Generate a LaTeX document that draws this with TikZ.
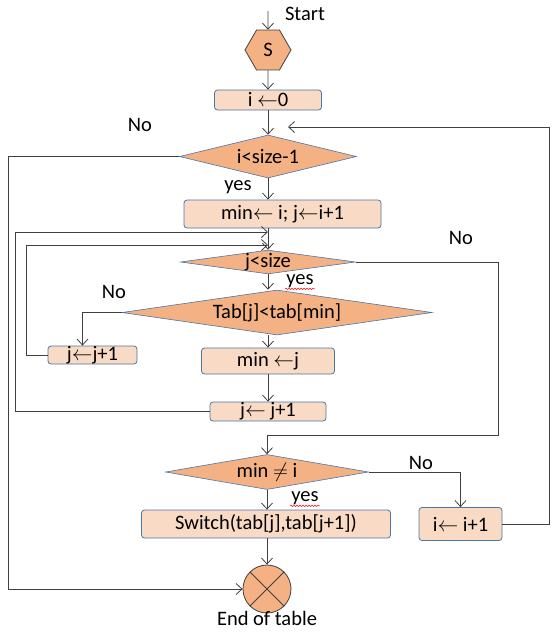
\documentclass[tikz,border=0pt]{standalone}
\usepackage{fontspec}
\setmainfont{Carlito}
\usetikzlibrary{shapes.geometric, arrows.meta, decorations.pathmorphing}
\definecolor{boxfill}{HTML}{F9DAC4}
\definecolor{decfill}{HTML}{F4B183}
\definecolor{boxline}{HTML}{4A76A8}
\definecolor{arrowline}{HTML}{404040}

\begin{document}
\begin{tikzpicture}[
        x=1pt, y=-1pt,
        font=\fontsize{20.5}{22}\selectfont,
        box/.style={rectangle, draw=boxline, fill=boxfill, line width=0.8pt, rounded corners=3pt, inner sep=0pt, align=center},
        decision/.style={diamond, draw=boxline, fill=decfill, line width=0.6pt, inner sep=0pt},
        terminal/.style={draw=arrowline, fill=decfill, line width=0.8pt, inner sep=0pt},
        arrow/.style={draw=arrowline, line width=0.8pt, -{Straight Barb[length=6pt,width=11pt]}},
        line/.style={draw=arrowline, line width=0.8pt},
        lbl/.style={inner sep=1pt},
        spell/.style={red, line width=0.5pt, decorate, decoration={snake, amplitude=0.7pt, segment length=3pt}}
        ]
        \useasboundingbox (0,0) rectangle (557,633);

        % main column
        \coordinate (entry) at (268,11);
        \node[terminal, regular polygon, regular polygon sides=6, minimum size=46pt] (start) at (268,50) {S};
        \node[lbl] (startlbl) at (305,14) {Start};
        \node[box, minimum width=107pt, minimum height=20pt] (init) at (268,100) {i $\leftarrow$0};
        \node[decision, aspect=4.1, minimum width=177pt, minimum height=43pt] (outer) at (268,156.5) {i<size-1};
        \node[box, minimum width=197pt, minimum height=28pt] (setmin) at (282.5,214) {min$\leftarrow$ i; j$\leftarrow$i+1};
        \node[decision, aspect=7.3, minimum width=175pt, minimum height=23pt] (inner) at (268,262) {j<size};
        \node[decision, aspect=6.9, minimum width=310pt, minimum height=45pt] (compare) at (277,312.5) {Tab[j]<tab[min]};
        \node[box, minimum width=89pt, minimum height=18pt] (skip) at (92.5,355) {j$\leftarrow$j+1};
        \node[box, minimum width=133pt, minimum height=26pt] (newmin) at (268,361) {min $\leftarrow$j};
        \node[box, minimum width=116pt, minimum height=19pt] (nextj) at (268,411.5) {j$\leftarrow$ j+1};
        \node[decision, aspect=5.8, minimum width=203pt, minimum height=35pt] (check) at (267,472) {min $\neq$ i};
        \node[box, minimum width=249pt, minimum height=28pt] (swap) at (266,524) {Switch(tab[j],tab[j+1])};
        \node[box, minimum width=83pt, minimum height=33pt] (nexti) at (460.5,524) {i$\leftarrow$ i+1};
        \node[terminal, circle, minimum size=48pt] (stop) at (267,589) {};
        \node[lbl] (stoplbl) at (267,618) {End of table};

        % branch labels
        \node[lbl] (no1) at (140,125) {No};
        \node[lbl] (yes1) at (238,187) {yes};
        \node[lbl] (no2) at (461,238) {No};
        \node[lbl] (yes2) at (300,281) {yes};
        \node[lbl] (no3) at (114,292) {No};
        \node[lbl] (no4) at (421,463) {No};
        \node[lbl] (yes3) at (305,498) {yes};
        \draw[spell] (yes2.south west) -- (yes2.south east);
        \draw[spell] (yes3.south west) -- (yes3.south east);

        % loop guides
        \coordinate (farleft) at (8,0);
        \coordinate (outerleft) at (15,0);
        \coordinate (innerleft) at (26,0);
        \coordinate (innerright) at (498,0);
        \coordinate (farright) at (549,0);
        \coordinate (loopi) at (288,127);
        \coordinate (loopjo) at (268,232);
        \coordinate (loopji) at (268,245);
        \coordinate (exitj) at (268,435);

        \draw[arrow] (entry) -- (start.north);
        \draw[arrow] (start.south) -- (init.north);
        \draw[arrow] (init.south) -- (outer.north);
        \draw[arrow] (outer.south) -- (outer.south |- setmin.north);
        \draw[arrow] (outer.south |- setmin.south) -- (inner.north);
        \draw[arrow] (inner.south) -- (inner.south |- compare.north);
        \draw[arrow] (inner.south |- compare.south) -- (newmin.north);
        \draw[arrow] (newmin.south) -- (nextj.north);
        \draw[arrow] (check.south) -- (check.south |- swap.north);
        \draw[arrow] (swap.south -| stop.north) -- (stop.north);

        \draw[arrow] (nexti.east) -| (farright |- loopi) -- (loopi);
        \draw[arrow] (outer.west) -| (farleft |- stop.west) -- (stop.west);
        \draw[arrow] (nextj.west) -| (outerleft |- loopjo) -- (loopjo);
        \draw[arrow] (skip.west) -| (innerleft |- loopji) -- (loopji);
        \draw[arrow] (compare.west) -| ([xshift=-10pt]skip.north);
        \draw[arrow] (inner.east) -| (innerright |- exitj) -| (check.north);
        \draw[arrow] (check.east) -| (nexti.north);

        \draw[line] (stop.north west) -- (stop.south east);
        \draw[line] (stop.north east) -- (stop.south west);
    \end{tikzpicture}
\end{document}
